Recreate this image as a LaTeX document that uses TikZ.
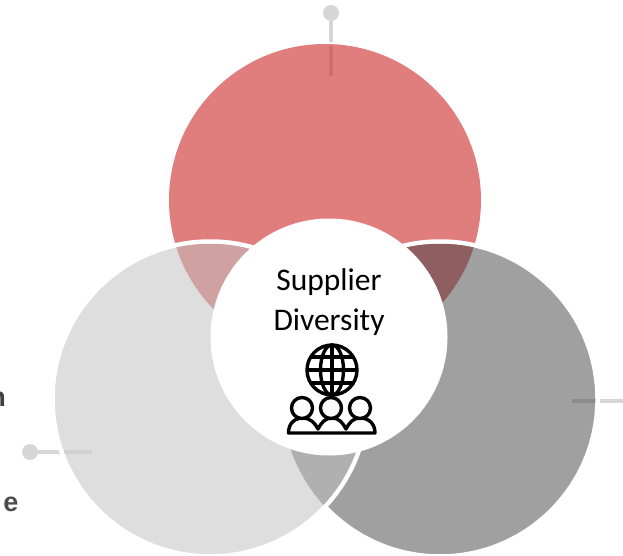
\documentclass[tikz,border=0pt]{standalone}
\usepackage{fontspec}
\setmainfont{Carlito}
\newfontfamily\labelfont{Liberation Sans}
\definecolor{redc}{HTML}{E07D7D}
\definecolor{lightc}{HTML}{DEDEDE}
\definecolor{grayc}{HTML}{A0A0A0}
\definecolor{lensl}{HTML}{CFA1A1}
\definecolor{lensr}{HTML}{8F5F5F}
\definecolor{lensb}{HTML}{B0B0B0}
\definecolor{tickc}{HTML}{D6D6D6}
\tikzset{
  tick/.style={line width=4.5pt,tickc},
  tickin/.style={line width=4.5pt,black,opacity=.1},
  cutoff/.style={font=\labelfont\bfseries\fontsize{27}{27}\selectfont,anchor=base east,inner sep=0pt},
  ring/.style={draw=white,line width=4.5pt},
  icon/.style={draw=black,line width=3.4pt,fill=white,line join=round},
  title/.style={font=\fontsize{31.5}{31.5}\selectfont,anchor=base,text=black}
}
\begin{document}
\begin{tikzpicture}[x=1pt,y=-1pt]
\useasboundingbox (0,0) rectangle (623,556);
\clip (0,0) rectangle (623,556);
\coordinate (R) at (325,200);
\coordinate (L) at (210,399);
\coordinate (G) at (440,399);
\coordinate (C) at (329,337);
\coordinate (W) at (332,370);
\node[cutoff,text=black!75] (n) at (6,406) {n};
\node[cutoff,text=black!70] (e) at (18.5,511) {e};
% connectors outside
\draw[tick] (331,13) -- (331,42);
\fill[tickc] (331,13) circle[radius=8pt];
\draw[tick] (30,452) -- (60,452);
\fill[tickc] (30,452) circle[radius=8pt];
\draw[tick] (600,401) -- (623,401);
% circles
\fill[redc] (R) circle[radius=156pt];
\draw[ring,fill=grayc] (G) circle[radius=157.5pt];
\draw[ring,fill=lightc] (L) circle[radius=157.5pt];
% overlaps
\begin{scope}
\clip (R) circle[radius=156pt];
\fill[lensl] (L) circle[radius=155.25pt];
\fill[lensr] (G) circle[radius=155.25pt];
\end{scope}
\begin{scope}
\clip (L) circle[radius=155.25pt];
\fill[lensb] (G) circle[radius=157.5pt];
\end{scope}
% inner ticks
\draw[tickin] (331,46) -- (331,76);
\draw[tickin,opacity=.06] (64,452) -- (92,452);
\draw[tickin,opacity=.12] (572,401) -- (596,401);
% centre
\fill[white] (C) circle[radius=118.5pt];
\node[title] (t1) at (329,290) {Supplier};
\node[title] (t2) at (329,330) {Diversity};
% icon
\draw[icon] (W) circle[radius=25pt];
\draw[icon,fill=none] (W) ellipse[x radius=11.5pt,y radius=25pt];
\draw[icon,fill=none] (332,345) -- (332,395);
\draw[icon,fill=none] (307,370) -- (357,370);
\draw[icon,fill=none] (311,357) -- (353,357);
\draw[icon,fill=none] (311,383) -- (353,383);
\draw[icon] (288.5,433) .. controls (288.5,423) and (295,418) .. (303,418)
  .. controls (310,418) and (315,423) .. (318,429)
  .. controls (321,423) and (325,418) .. (332,418)
  .. controls (339,418) and (343,423) .. (346,429)
  .. controls (349,423) and (353,418) .. (360,418)
  .. controls (368,418) and (375,423) .. (375,433) -- cycle;
\draw[icon] (302,408) circle[radius=10.5pt];
\draw[icon] (331,408) circle[radius=10.5pt];
\draw[icon] (360,408) circle[radius=10.5pt];
\end{tikzpicture}
\end{document}
